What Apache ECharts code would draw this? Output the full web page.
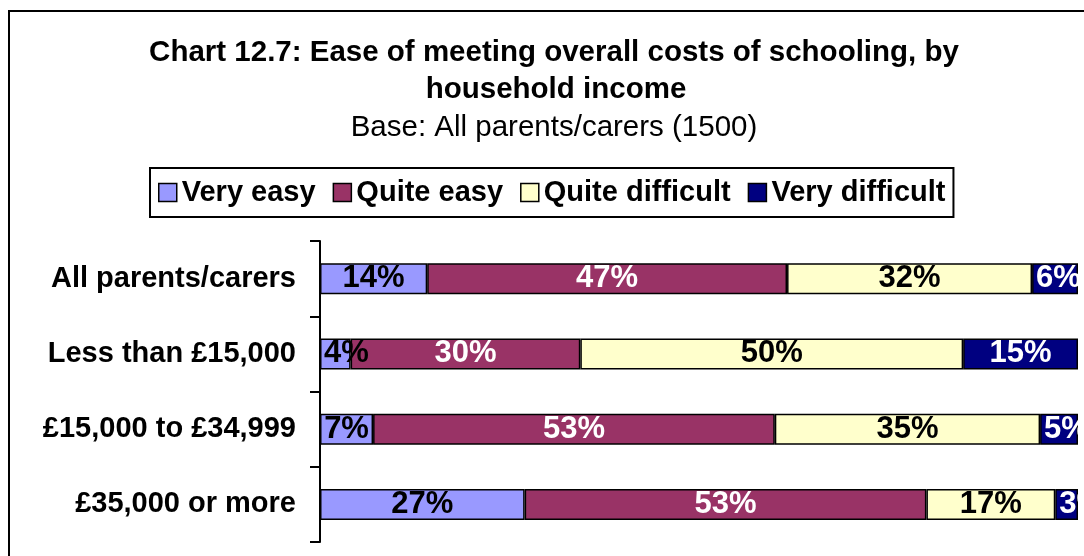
<!DOCTYPE html>
<html>
<head>
<meta charset="utf-8">
<title>Chart 12.7</title>
<script src="https://cdn.jsdelivr.net/npm/echarts@6/dist/echarts.min.js"></script>
<style>
    html, body { margin: 0; padding: 0; background: #fff; }
    .bar { width: 1084px; height: 556px; }
</style>
</head>
<body>
<div class="bar"></div>
<script>
// data
var categories = ['All parents/carers', 'Less than £15,000', '£15,000 to £34,999', '£35,000 or more'];
var veryEasy = [14, 4, 7, 27];
var quiteEasy = [47, 30, 53, 53];
var quiteDifficult = [32, 50, 35, 17];
var veryDifficult = [6, 15, 5, 3];
var seriesNames = ['Very easy', 'Quite easy', 'Quite difficult', 'Very difficult'];

(function() {
    var myChart = echarts.init(document.querySelector('.bar'));
    var font = "'Liberation Sans', Arial, sans-serif";
    var colors = ['#9999ff', '#993366', '#ffffcc', '#000080'];
    var labelColors = ['#000', '#fff', '#000', '#fff'];
    var raw = [veryEasy, quiteEasy, quiteDifficult, veryDifficult];

    // 100% stacked: each row is scaled to its own total, labels keep the printed value
    var totals = categories.map(function(c, i) {
        return raw.reduce(function(s, arr) { return s + arr[i]; }, 0);
    });

    var series = raw.map(function(arr, k) {
        return {
            name: seriesNames[k],
            type: 'bar',
            stack: 'total',
            barWidth: 31,
            itemStyle: { color: colors[k], borderColor: '#000', borderWidth: 1.5 },
            label: {
                show: true,
                position: 'inside',
                color: labelColors[k],
                fontFamily: font,
                fontWeight: 'bold',
                fontSize: 31,
                formatter: function(p) { return arr[p.dataIndex] + '%'; }
            },
            data: arr.map(function(v, i) {
                var share = v / totals[i] * 100;
                // narrow pieces: the label starts at the left of the piece
                if (share < 7) {
                    return { value: share, label: { position: 'insideLeft', distance: 4 } };
                }
                return share;
            })
        };
    });

    var titleText = { fontFamily: font, fontWeight: 'bold', fontSize: 29.5, color: '#000' };

    var option = {
        animation: false,
        color: colors,
        title: [
            { text: 'Chart 12.7: Ease of meeting overall costs of schooling, by', left: 549, textAlign: 'center', top: 33, textStyle: titleText },
            { text: 'household income', left: 551, textAlign: 'center', top: 70, textStyle: titleText },
            { text: 'Base: All parents/carers (1500)', left: 549, textAlign: 'center', top: 108,
              textStyle: { fontFamily: font, fontWeight: 'normal', fontSize: 29.5, color: '#000' } }
        ],
        legend: {
            left: 150,
            top: 168,
            padding: [10, 8],
            borderColor: '#000',
            borderWidth: 2,
            itemWidth: 18,
            itemHeight: 18,
            itemGap: 17,
            icon: 'rect',
            itemStyle: { borderColor: '#000', borderWidth: 1.5 },
            textStyle: { fontFamily: font, fontWeight: 'bold', fontSize: 29, color: '#000' },
            data: seriesNames
        },
        grid: { left: 320, right: 6, top: 241, bottom: 14 },
        xAxis: { type: 'value', min: 0, max: 100, show: false },
        yAxis: {
            type: 'category',
            inverse: true,
            data: categories,
            axisLine: { show: true, lineStyle: { color: '#000', width: 2 } },
            axisTick: { show: true, length: 10, lineStyle: { color: '#000', width: 2 } },
            axisLabel: { margin: 24, color: '#000', fontFamily: font, fontWeight: 'bold', fontSize: 29 }
        },
        series: series,
        graphic: [
            // outer chart frame, runs off the right and bottom edge
            { type: 'rect', shape: { x: 9, y: 11, width: 1300, height: 700 }, style: { fill: null, stroke: '#000', lineWidth: 2 }, z: 100 },
            // labels are cut at the plot edge
            { type: 'rect', shape: { x: 1079, y: 230, width: 10, height: 330 }, style: { fill: '#fff' }, z: 100 }
        ]
    };
    myChart.setOption(option);
})();
</script>
</body>
</html>
